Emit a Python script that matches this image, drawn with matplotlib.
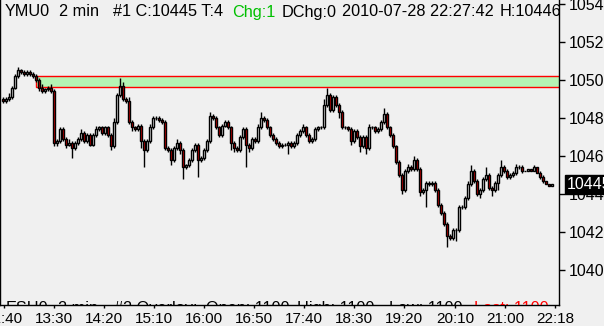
import numpy as np
import matplotlib
matplotlib.use("Agg")
import matplotlib.pyplot as plt
import matplotlib.transforms as mtransforms
from matplotlib.patches import Rectangle

plt.rcParams['font.family'] = ['Liberation Sans', 'DejaVu Sans']

# 2-min YM closes left to right
closes = [10489, 10490, 10491, 10496, 10502, 10505, 10504, 10503, 10504, 10503,
          10502, 10500, 10496, 10494, 10495, 10496, 10494, 10467, 10468, 10474,
          10469, 10466, 10467, 10464, 10467, 10469, 10472, 10468, 10471, 10466,
          10471, 10474, 10475, 10472, 10475, 10471, 10465, 10478, 10492, 10497,
          10490, 10489, 10478, 10475, 10474, 10476, 10468, 10463, 10468, 10475,
          10480, 10480, 10479, 10478, 10464, 10463, 10458, 10464, 10467, 10463,
          10454, 10455, 10458, 10463, 10466, 10458, 10459, 10463, 10468, 10481,
          10480, 10475, 10471, 10476, 10478, 10475, 10467, 10464, 10463, 10470,
          10474, 10466, 10464, 10469, 10468, 10475, 10480, 10479, 10475, 10471,
          10469, 10467, 10465, 10466, 10466, 10467, 10465, 10467, 10471, 10473,
          10475, 10471, 10468, 10469, 10474, 10475, 10475, 10487, 10492, 10484,
          10491, 10487, 10483, 10475, 10475, 10474, 10468, 10473, 10470, 10465,
          10470, 10464, 10475, 10475, 10473, 10474, 10478, 10482, 10475, 10471,
          10465, 10457, 10450, 10442, 10452, 10454, 10453, 10458, 10453, 10441,
          10442, 10446, 10445, 10446, 10442, 10434, 10430, 10424, 10418, 10417,
          10421, 10421, 10433, 10433, 10438, 10445, 10452, 10447, 10440, 10442,
          10448, 10450, 10443, 10442, 10446, 10450, 10454, 10452, 10449, 10450,
          10451, 10454, 10454, 10452, 10452, 10453, 10452, 10454, 10451, 10449,
          10447, 10445, 10444, 10445]
first_open = 10490

upper_wick = [1, 1, 2, 1, 1, 2, 1, 1, 1, 1,
              1, 1, 1, 2, 1, 1, 2, 1, 1, 1,
              1, 1, 2, 1, 1, 1, 2, 1, 1, 1,
              1, 2, 1, 1, 1, 1, 1, 2, 1, 4,
              2, 1, 2, 1, 1, 1, 1, 1, 1, 2,
              1, 1, 1, 1, 1, 1, 1, 1, 2, 1,
              1, 1, 1, 1, 1, 1, 1, 1, 1, 2,
              1, 1, 1, 1, 1, 1, 1, 1, 1, 1,
              1, 1, 1, 1, 1, 2, 3, 1, 1, 1,
              1, 1, 1, 1, 1, 1, 1, 1, 1, 1,
              2, 1, 1, 1, 1, 1, 1, 3, 4, 1,
              1, 1, 1, 1, 1, 1, 1, 1, 1, 1,
              1, 1, 2, 1, 1, 1, 1, 3, 1, 1,
              1, 1, 1, 1, 1, 2, 1, 2, 1, 1,
              1, 1, 1, 1, 1, 1, 1, 1, 1, 1,
              1, 1, 1, 1, 1, 2, 3, 1, 1, 1,
              1, 4, 1, 1, 1, 1, 4, 1, 1, 1,
              1, 2, 1, 1, 0, 0, 0, 1, 0, 1,
              1, 0, 0, 0]
lower_wick = [1, 1, 1, 1, 1, 1, 1, 1, 1, 1,
              1, 1, 2, 1, 1, 1, 1, 2, 2, 1,
              1, 2, 1, 5, 1, 1, 1, 1, 1, 1,
              1, 1, 1, 1, 1, 1, 2, 1, 1, 1,
              1, 1, 1, 2, 1, 1, 4, 9, 1, 1,
              1, 1, 1, 1, 1, 1, 3, 1, 1, 2,
              6, 1, 1, 1, 1, 9, 1, 1, 1, 1,
              1, 1, 1, 1, 1, 1, 4, 2, 1, 1,
              1, 12, 2, 1, 1, 1, 1, 1, 1, 1,
              1, 1, 1, 1, 1, 5, 1, 1, 1, 1,
              1, 1, 1, 1, 1, 1, 1, 1, 1, 1,
              1, 1, 3, 1, 1, 1, 2, 1, 1, 3,
              1, 3, 1, 1, 1, 1, 1, 1, 1, 1,
              1, 1, 1, 2, 1, 1, 1, 1, 1, 2,
              1, 9, 1, 1, 1, 1, 1, 1, 6, 1,
              1, 6, 1, 1, 1, 1, 1, 1, 1, 2,
              1, 1, 1, 3, 1, 4, 1, 1, 1, 1,
              1, 1, 1, 1, 0, 0, 0, 0, 0, 1,
              1, 0, 0, 0]

time_labels = ["12:40", "13:30", "14:20", "15:10", "16:00", "16:50", "17:40",
               "18:30", "19:20", "20:10", "21:00", "22:18"]
time_ticks = [0.3, 17, 33.7, 50.3, 67, 83.7, 100.3, 117, 133.7, 150.7, 167.3, 184]
price_ticks = [10400, 10420, 10440, 10460, 10480, 10500, 10520, 10540]
zone_low, zone_high, zone_start = 10496.3, 10502.1, 11
last_price = 10445

BG = '#f0f0f0'
RED = '#e00000'
LW = 1.0

closes = np.array(closes, dtype=float)
opens = np.concatenate([[first_open], closes[:-1]])
body_top = np.maximum(opens, closes)
body_bot = np.minimum(opens, closes)
highs = body_top + np.array(upper_wick)
lows = body_bot - np.array(lower_wick)
idx = np.arange(len(closes))
down = closes < opens

fig = plt.figure(figsize=(6.04, 3.26), dpi=100, facecolor=BG)
ax = fig.add_axes([0, 21.5 / 326, 559 / 604, 304.5 / 326], facecolor=BG)

ax.add_patch(Rectangle((zone_start, zone_low), 200, zone_high - zone_low,
                       facecolor='#b4f4b4', edgecolor='#ff0000', lw=1.0, zorder=1))

ax.vlines(idx, body_top, highs, color='black', lw=LW, zorder=2)
ax.vlines(idx, lows, body_bot, color='black', lw=LW, zorder=2)
ax.bar(idx, body_top - body_bot, bottom=body_bot, width=0.8,
       color=np.where(down, RED, 'none'), edgecolor='black', lw=LW, zorder=3)

ax.set_xlim(-1, 185.3)
ax.set_ylim(10381.8, 10542.1)

ax.spines['top'].set_visible(False)
for s in ['left', 'right', 'bottom']:
    ax.spines[s].set_color('black')
    ax.spines[s].set_linewidth(1.0)

ax.yaxis.tick_right()
ax.set_yticks(price_ticks)
ax.set_yticklabels([str(p) for p in price_ticks])
ax.tick_params(axis='y', direction='out', length=4, width=1, pad=3, labelsize=11.5)
ax.set_xticks(time_ticks)
ax.set_xticklabels(time_labels)
ax.tick_params(axis='x', direction='out', length=2.5, width=1, pad=3, labelsize=11)

# last price marker on the price scale
blend = mtransforms.blended_transform_factory(ax.transAxes, ax.transData)
ax.text(1 + 8 / 559, last_price, str(last_price), transform=blend, color='white',
        fontsize=11.5, ha='left', va='center', clip_on=False, zorder=10,
        bbox=dict(boxstyle='square,pad=0.12', facecolor='black', edgecolor='black'))

# header line
header = [("YMU0", 5, 'black'), ("2 min", 59, 'black'), ("#1 C:10445 T:4", 113, 'black'),
          ("Chg:1", 232, '#00c000'), ("DChg:0", 282, 'black'),
          ("2010-07-28 22:27:42", 342, 'black'), ("H:10446", 500, 'black')]
for txt, px, col in header:
    fig.text(px / 604, 1 - 16.5 / 326, txt, color=col, fontsize=11.7,
             ha='left', va='baseline')

# overlay line, mostly hidden under the bottom of the chart
overlay = [("ESH0", 6, 'black'), ("2 min", 58, 'black'), ("#2 Overlay:", 114, 'black'),
           ("Open: 1100", 206, 'black'), ("High: 1100", 297, 'black'),
           ("Low: 1100", 389, 'black'), ("Last: 1100", 474, '#ff0000')]
for txt, px, col in overlay:
    ax.text(px / 559, (304.5 - 313) / 304.5, txt, transform=ax.transAxes, color=col,
            fontsize=11.7, ha='left', va='baseline', clip_on=True)

fig.savefig("out.png", dpi=100, facecolor=BG)
